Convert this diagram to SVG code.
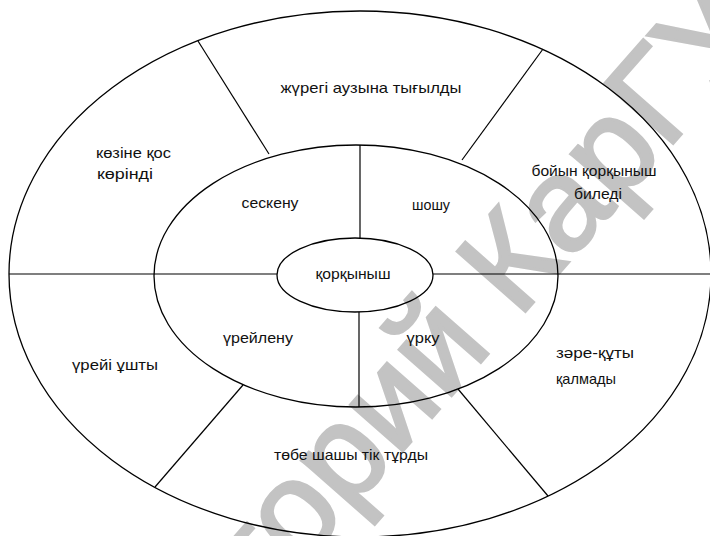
<svg xmlns="http://www.w3.org/2000/svg" width="710" height="536" viewBox="0 0 710 536">
<style>
.shape{fill:none;stroke:#000;stroke-width:1.3}
.div{stroke:#000;stroke-width:1.2;fill:none}
.lbl{font-family:"Liberation Sans",Arial,sans-serif;font-size:15px;fill:#111}
.c{text-anchor:middle}
.wm{font-family:"Liberation Sans",Arial,sans-serif;font-size:132px;fill:#c3c3c3;stroke:#c3c3c3;stroke-width:3}
</style>
<rect width="710" height="536" fill="#fff"/>
<text class="wm" transform="translate(-25,938) rotate(-48.7)">Репозиторий КарГУ</text>
<g id="outer-ring">
<ellipse class="shape" cx="360" cy="274" rx="351" ry="263"/>
</g>
<g id="middle-ring">
<ellipse class="shape" cx="356" cy="276" rx="202" ry="131"/>
</g>
<g id="connectors">
<line class="div" x1="9" y1="274" x2="277" y2="274"/>
<line class="div" x1="433" y1="274" x2="710" y2="274"/>
<line class="div" x1="360" y1="145" x2="360" y2="238"/>
<line class="div" x1="359" y1="312" x2="359" y2="407"/>
<line class="div" x1="198" y1="41" x2="269" y2="154"/>
<line class="div" x1="543" y1="49" x2="462" y2="160"/>
<line class="div" x1="243" y1="385" x2="155" y2="487"/>
<line class="div" x1="458" y1="389" x2="548" y2="496"/>
</g>
<g id="center">
<ellipse class="shape" cx="355" cy="275" rx="78" ry="37" fill="#fff"/>
<text class="lbl c" x="353" y="279" textLength="75" lengthAdjust="spacingAndGlyphs">қорқыныш</text>
</g>
<g id="n-seskenu"><text class="lbl c" x="270" y="208" textLength="57" lengthAdjust="spacingAndGlyphs">сескену</text></g>
<g id="n-shoshu"><text class="lbl c" x="431" y="210" textLength="38" lengthAdjust="spacingAndGlyphs">шошу</text></g>
<g id="n-ureilenu"><text class="lbl c" x="258" y="343" textLength="70" lengthAdjust="spacingAndGlyphs">үрейлену</text></g>
<g id="n-urku"><text class="lbl c" x="423" y="343" textLength="33" lengthAdjust="spacingAndGlyphs">үрку</text></g>
<g id="n-zhuregi"><text class="lbl c" x="371" y="93" textLength="181" lengthAdjust="spacingAndGlyphs">жүрегі аузына тығылды</text></g>
<g id="n-kozine">
<text class="lbl" x="96" y="158" textLength="75" lengthAdjust="spacingAndGlyphs">көзіне қос</text>
<text class="lbl" x="97" y="179" textLength="56" lengthAdjust="spacingAndGlyphs">көрінді</text>
</g>
<g id="n-boiyn">
<text class="lbl c" x="594" y="176" textLength="125" lengthAdjust="spacingAndGlyphs">бойын қорқыныш</text>
<text class="lbl c" x="598" y="199" textLength="48" lengthAdjust="spacingAndGlyphs">биледі</text>
</g>
<g id="n-ureii"><text class="lbl c" x="115" y="370" textLength="86" lengthAdjust="spacingAndGlyphs">үрейі ұшты</text></g>
<g id="n-zare">
<text class="lbl" x="556" y="358" textLength="78" lengthAdjust="spacingAndGlyphs">зәре-құты</text>
<text class="lbl" x="556" y="384" textLength="60" lengthAdjust="spacingAndGlyphs">қалмады</text>
</g>
<g id="n-tobe"><text class="lbl c" x="351" y="460" textLength="154" lengthAdjust="spacingAndGlyphs">төбе шашы тік тұрды</text></g>
</svg>
